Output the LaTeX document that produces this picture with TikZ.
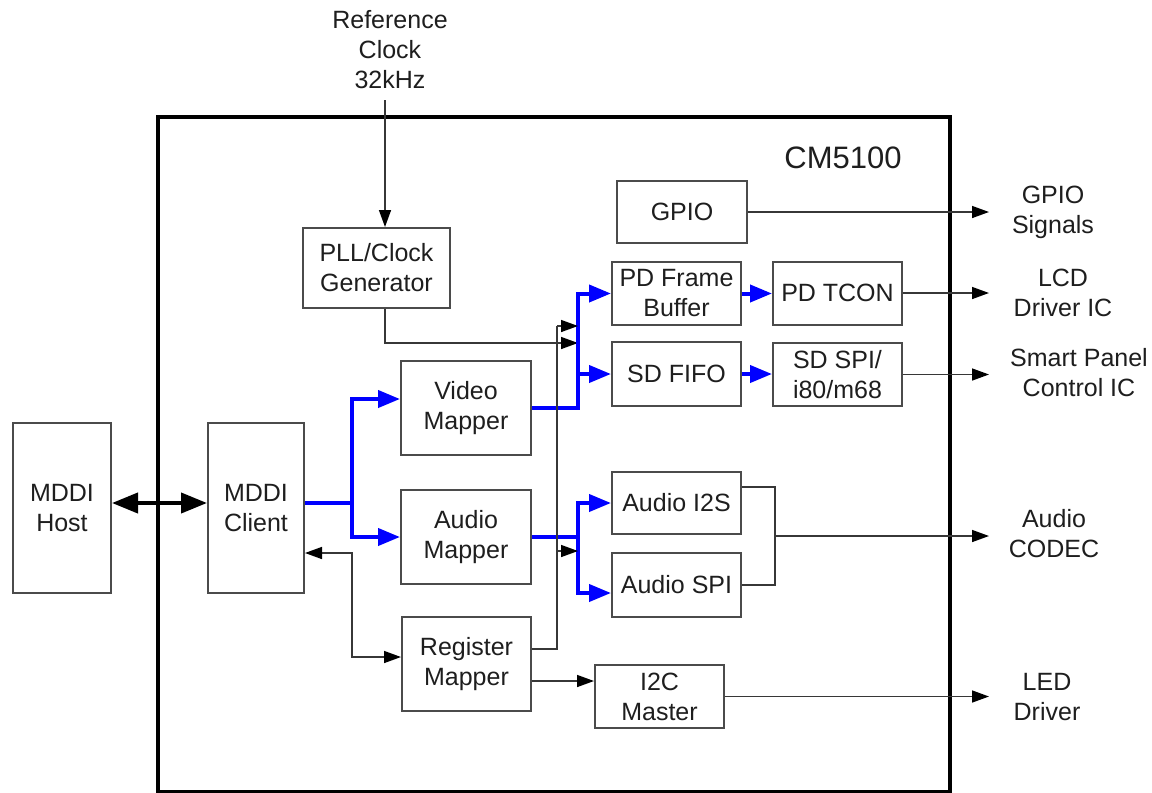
\documentclass[tikz,border=0pt]{standalone}
\usepackage{fontspec}
\setmainfont{Liberation Sans}
\usetikzlibrary{arrows.meta,calc}
\definecolor{boxc}{RGB}{75,75,75}
\definecolor{linec}{RGB}{55,55,55}
\definecolor{txtc}{RGB}{30,30,30}
\tikzset{
  blk/.style={draw=boxc, line width=2pt, inner sep=0pt, align=center, text=txtc,
    font=\fontsize{25}{30}\selectfont},
  lbl/.style={inner sep=0pt, align=center, text=txtc, font=\fontsize{25}{30}\selectfont},
  conn/.style={draw=linec, line width=1.5pt},
  arr/.style={conn, -{Triangle[length=17pt,width=12pt,color=black]}},
  darr/.style={conn, {Triangle[length=17pt,width=12pt,color=black]}-{Triangle[length=17pt,width=12pt,color=black]}},
  bus/.style={draw=blue, line width=4pt},
  busarr/.style={bus, -{Triangle[length=22pt,width=17pt]}},
}
\begin{document}
\begin{tikzpicture}[x=1pt,y=-1pt]
\useasboundingbox (0,0) rectangle (1152,793);
% container
\node[draw=black, line width=4pt, minimum width=792pt, minimum height=675pt, inner sep=0pt] (cm) at (554,454.5) {};
\node[lbl, font=\fontsize{31}{36}\selectfont] (cmlbl) at (843,158) {CM5100};

% blocks
\node[blk, minimum width=98pt, minimum height=170pt] (host) at (62,508) {MDDI\\Host};
\node[blk, minimum width=96pt, minimum height=170pt] (client) at (256,508) {MDDI\\Client};
\node[blk, minimum width=147pt, minimum height=80pt] (pll) at (376.5,268) {PLL/Clock\\Generator};
\node[blk, minimum width=130pt, minimum height=94pt] (video) at (466,408) {Video\\Mapper};
\node[blk, minimum width=130pt, minimum height=94pt] (audio) at (466,537) {Audio\\Mapper};
\node[blk, minimum width=129pt, minimum height=94pt] (reg) at (466.5,664) {Register\\Mapper};
\node[blk, minimum width=130pt, minimum height=62pt] (gpio) at (682,212) {GPIO};
\node[blk, minimum width=129pt, minimum height=63pt] (pdfb) at (676.5,293.5) {PD Frame\\Buffer};
\node[blk, minimum width=129pt, minimum height=64pt] (sdfifo) at (676.5,374) {SD FIFO};
\node[blk, minimum width=129pt, minimum height=63pt] (tcon) at (837.5,293) {PD TCON};
\node[blk, minimum width=129pt, minimum height=63pt] (sdspi) at (837.5,374.5) {SD SPI/\\i80/m68};
\node[blk, minimum width=129pt, minimum height=62pt] (i2s) at (676.5,503) {Audio I2S};
\node[blk, minimum width=129pt, minimum height=64pt] (aspi) at (676.5,585) {Audio SPI};
\node[blk, minimum width=129pt, minimum height=63pt] (i2c) at (659.5,696.5) {I2C\\Master};

% outside labels
\node[lbl] (refclk) at (390,50) {Reference\\Clock\\32kHz};
\node[lbl] (gpiosig) at (1053,212) {GPIO\\Signals};
\node[lbl] (lcd) at (1063,293) {LCD\\Driver IC};
\node[lbl] (smart) at (1079,373) {Smart Panel\\Control IC};
\node[lbl] (codec) at (1054,534) {Audio\\CODEC};
\node[lbl] (led) at (1047,697) {LED\\Driver};

% helper coordinates
\coordinate (clk) at (385,100);
\coordinate (pllo) at (385,343);
\coordinate (vx) at (578,0);
\coordinate (cx) at (352,0);
\coordinate (ox) at (989,0);
\coordinate (ax) at (775,0);
\coordinate (rx) at (557,326);
\coordinate (ra) at (557,551);
\coordinate (aud) at (775,536);
\coordinate (cout) at ($(client.east)+(0,-5)$);
\coordinate (hout) at ($(host.east)+(0,-5)$);
\coordinate (cin) at ($(client.west)+(0,-5)$);
\coordinate (vin) at ($(video.west)+(0,-9)$);
\coordinate (cret) at ($(client.east)+(0,45)$);
\coordinate (rin) at ($(reg.west)+(0,-7)$);
\coordinate (r1) at ($(reg.east)+(0,-15)$);
\coordinate (r2) at ($(reg.east)+(0,17)$);
\coordinate (aspiin) at ($(aspi.west)+(0,8)$);
\coordinate (i2so) at ($(i2s.east)+(0,-16)$);

% MDDI link
\draw[line width=4pt, {Triangle[length=26pt,width=20pt]}-{Triangle[length=26pt,width=20pt]}] (hout) -- (cin);

% clock
\draw[arr] (clk) -- (clk |- pll.north);
\draw[arr] (clk |- pll.south) |- (vx |- pllo);

% client to mappers (blue)
\draw[busarr] (cout) -| (cx |- vin) -- (vin);
\draw[busarr] (cout -| cx) |- (audio.west);
\draw[darr] (cret) -| (cx |- rin) -- (rin);

% video bus
\draw[busarr] (video.east) -| (vx |- pdfb.west) -- (pdfb.west);
\draw[busarr] (vx |- sdfifo.west) -- (sdfifo.west);
\draw[busarr] (pdfb.east) -- (pdfb.east -| tcon.west);
\draw[busarr] (sdfifo.east) -- (sdfifo.east -| sdspi.west);

% audio bus
\draw[busarr] (audio.east) -| (vx |- i2s.west) -- (i2s.west);
\draw[busarr] (audio.east -| vx) |- (aspiin);

% register mapper
\draw[conn] (r1) -| (rx);
\draw[arr] (rx) -- (vx |- rx);
\draw[arr] (ra) -- (vx |- ra);
\draw[arr] (r2) -- (r2 -| i2c.west);

% audio outputs merge
\draw[conn] (i2so) -| (ax |- aspi.east) -- (aspi.east);

% external outputs
\draw[arr] (gpio.east) -- (gpio.east -| ox);
\draw[arr] (tcon.east) -- (tcon.east -| ox);
\draw[arr] (sdspi.east) -- (sdspi.east -| ox);
\draw[arr] (aud) -- (aud -| ox);
\draw[arr] (i2c.east) -- (i2c.east -| ox);
\end{tikzpicture}
\end{document}
